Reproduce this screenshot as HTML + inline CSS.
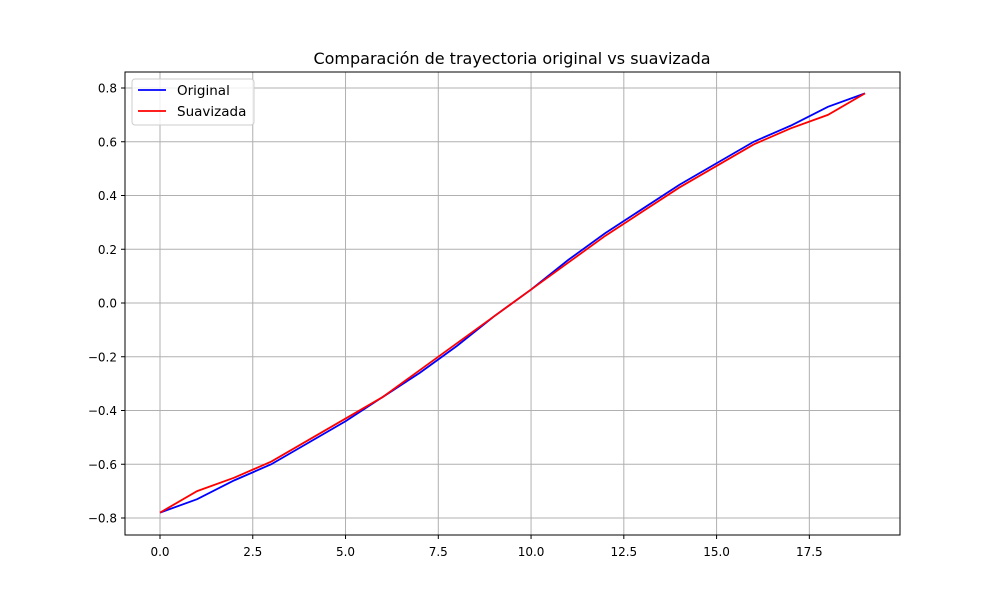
<!DOCTYPE html>
<html><head><meta charset="utf-8"><style>
body{margin:0;background:#fff;font-family:"Liberation Sans","DejaVu Sans",sans-serif;}
svg text{font-family:"DejaVu Sans","Liberation Sans",sans-serif;}
</style></head><body>
<svg id="chart" width="1000" height="600">
<rect width="1000" height="600" fill="#fff"/>
<text x="512" y="64" text-anchor="middle" font-size="16">Comparación de trayectoria original vs suavizada</text>
<g id="grid"></g><g id="ticks"></g><g id="lines"></g>
<rect x="125" y="72" width="775" height="463" fill="none" stroke="#000" stroke-width="1"/>
<g>
<rect x="132" y="79" width="122" height="46" rx="3" fill="#fff" fill-opacity="0.8" stroke="#ccc"/>
<line x1="138" y1="90" x2="166" y2="90" stroke="#0000ff" stroke-width="1.8"/>
<text x="177" y="95" font-size="13.5">Original</text>
<line x1="138" y1="111" x2="166" y2="111" stroke="#ff0000" stroke-width="1.8"/>
<text x="177" y="116" font-size="13.5">Suavizada</text>
</g>
</svg>
<script>
const xIndex=[0,1,2,3,4,5,6,7,8,9,10,11,12,13,14,15,16,17,18,19];
const original=[-0.78,-0.73,-0.66,-0.60,-0.52,-0.44,-0.35,-0.26,-0.16,-0.05,0.05,0.16,0.26,0.35,0.44,0.52,0.60,0.66,0.73,0.78];
const smoothed=[-0.78,-0.70,-0.65,-0.59,-0.51,-0.43,-0.35,-0.25,-0.15,-0.05,0.05,0.15,0.25,0.34,0.43,0.51,0.59,0.65,0.70,0.78];
const xTicks=[0,2.5,5,7.5,10,12.5,15,17.5];
const yTicks=[-0.8,-0.6,-0.4,-0.2,0,0.2,0.4,0.6,0.8];
const NS="http://www.w3.org/2000/svg";
const X=v=>160+v*(705/19);
const Y=v=>303-v*268.75;
const grid=document.getElementById('grid'),ticks=document.getElementById('ticks'),lines=document.getElementById('lines');
function mk(tag,attrs,parent){const e=document.createElementNS(NS,tag);for(const k in attrs)e.setAttribute(k,attrs[k]);parent.appendChild(e);return e;}
xTicks.forEach(t=>{
 const g=mk('line',{x1:X(t),x2:X(t),y1:72,y2:535,stroke:'#b0b0b0','stroke-width':1},grid);
 
 
 mk('line',{x1:X(t),x2:X(t),y1:535,y2:539,stroke:'#000'},ticks);
 const tx=mk('text',{x:X(t),y:556,'text-anchor':'middle','font-size':12},ticks);
 tx.textContent=t.toFixed(1);
 
 
});
yTicks.forEach(t=>{
 const g=mk('line',{x1:125,x2:900,y1:Y(t),y2:Y(t),stroke:'#b0b0b0','stroke-width':1},grid);
 
 
 mk('line',{x1:121,x2:125,y1:Y(t),y2:Y(t),stroke:'#000'},ticks);
 const tx=mk('text',{x:117,y:Y(t)+4.5,'text-anchor':'end','font-size':12},ticks);
 tx.textContent=(t<0?'\u2212':'')+Math.abs(t).toFixed(1);
 
 
});
function series(vals,color,name){
 const p=mk('polyline',{points:vals.map((v,i)=>X(xIndex[i])+','+Y(v)).join(' '),fill:'none',stroke:color,'stroke-width':1.8},lines);
 
 
}
series(original,'#0000ff','original-line');
series(smoothed,'#ff0000','smoothed-line');
</script>
</body></html>
